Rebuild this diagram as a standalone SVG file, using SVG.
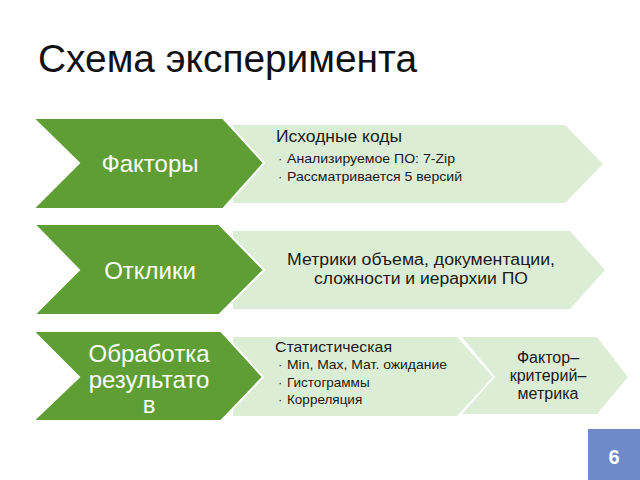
<svg xmlns="http://www.w3.org/2000/svg" width="640" height="480" viewBox="0 0 640 480">
<style>
.dark{fill:#5E9E34;stroke:#ffffff;stroke-width:2;stroke-linejoin:miter}
.light{fill:#DCEDD5;stroke:none}
.gt{font-family:"Liberation Sans",Arial,sans-serif;fill:#ffffff;font-size:24px;text-anchor:middle}
.t{font-family:"Liberation Sans",Arial,sans-serif;fill:#1a1a1a}
.h{font-size:16px}
.b{font-size:13.5px}
.c{font-size:16px;text-anchor:middle}
.dot{font-family:"Liberation Sans",Arial,sans-serif;fill:#333333;font-size:13px}
</style>
<rect width="640" height="480" fill="#ffffff"/>
<text x="38" y="72" font-family="Liberation Sans,Arial,sans-serif" font-size="38" fill="#111111" textLength="379" lengthAdjust="spacingAndGlyphs">Схема эксперимента</text>

<g id="row1-detail">
<polygon class="light" points="233,125 565,125 603,164 565,203 233,203"/>
<text class="t h" x="276" y="142" textLength="126" lengthAdjust="spacingAndGlyphs">Исходные коды</text>
<text class="dot" x="278" y="163">·</text>
<text class="t b" x="287" y="163" textLength="168" lengthAdjust="spacingAndGlyphs">Анализируемое ПО: 7-Zip</text>
<text class="dot" x="278" y="181">·</text>
<text class="t b" x="287" y="181" textLength="175" lengthAdjust="spacingAndGlyphs">Рассматривается 5 версий</text>
</g>
<g id="row1-factors">
<polygon class="dark" points="33,118 223,118 264,163 223,209 33,209 79,163"/>
<text class="gt" x="150" y="172">Факторы</text>
</g>

<g id="row2-detail">
<polygon class="light" points="233,231 570,231 605,270 570,309 233,309"/>
<text class="t c" x="421" y="265" textLength="268" lengthAdjust="spacingAndGlyphs">Метрики объема, документации,</text>
<text class="t c" x="421" y="284" textLength="214" lengthAdjust="spacingAndGlyphs">сложности и иерархии ПО</text>
</g>
<g id="row2-responses">
<polygon class="dark" points="34,224 219,224 264,270 219,315 34,315 79,270"/>
<text class="gt" x="150" y="279">Отклики</text>
</g>

<g id="row3-stat">
<polygon class="light" points="233,337 457,337 493,377 457,416 233,416"/>
<text class="t" x="275" y="352" font-size="15" textLength="117" lengthAdjust="spacingAndGlyphs">Статистическая</text>
<text class="dot" x="278" y="369">·</text>
<text class="t b" x="287" y="369" textLength="160" lengthAdjust="spacingAndGlyphs">Min, Max, Мат. ожидание</text>
<text class="dot" x="278" y="387">·</text>
<text class="t b" x="287" y="387">Гистограммы</text>
<text class="dot" x="278" y="404">·</text>
<text class="t b" x="287" y="404">Корреляция</text>
</g>
<g id="row3-fcm">
<polygon class="light" points="462,337 597,337 628,377 597,414 462,414 495,377"/>
<text class="t c" x="548" y="363">Фактор–</text>
<text class="t c" x="548" y="381">критерий–</text>
<text class="t c" x="548" y="399">метрика</text>
</g>
<g id="row3-processing">
<polygon class="dark" points="33,331 221,331 263,377 221,421 33,421 79,377"/>
<text class="gt" x="149" y="362">Обработка</text>
<text class="gt" x="149" y="388">результато</text>
<text class="gt" x="149" y="413">в</text>
</g>

<g id="page-number">
<rect x="588" y="429" width="52" height="51" fill="#6F8AC8"/>
<text x="614" y="464" font-family="Liberation Sans,Arial,sans-serif" font-size="20" font-weight="bold" fill="#ffffff" text-anchor="middle">6</text>
</g>
<g id="connectors"></g>
</svg>
